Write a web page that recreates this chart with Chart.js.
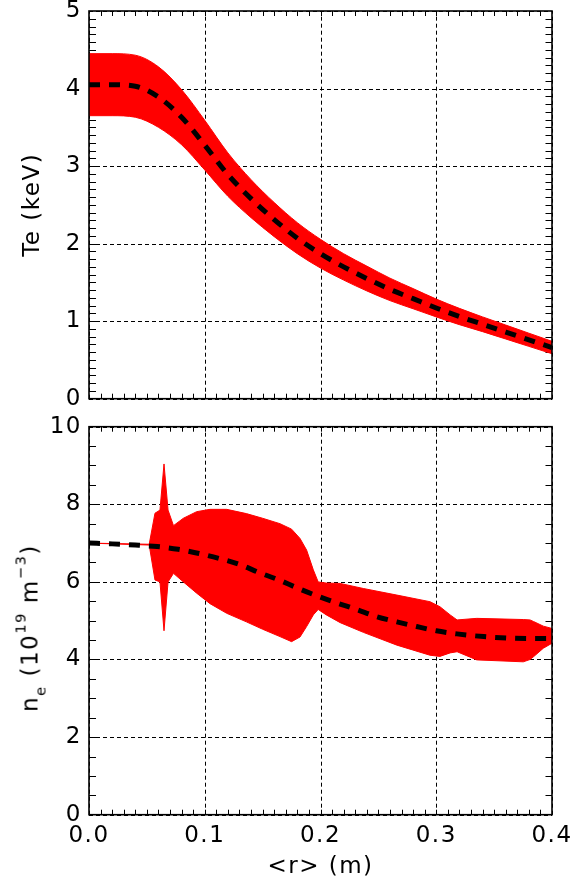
<!DOCTYPE html>
<html>
<head>
<meta charset="utf-8">
<script src="https://cdn.jsdelivr.net/npm/chart.js@4.4.1/dist/chart.umd.min.js"></script>
<style>
  html, body { margin: 0; padding: 0; background: #fff; }
  #wrap { position: relative; width: 582px; height: 880px; overflow: hidden; }
  #wrap canvas { position: absolute; left: 0; }
  #teCanvas { top: 0; }
  #neCanvas { top: 410px; }
  #neTitle {
    position: absolute; left: 29.5px; top: 628px;
    transform: translate(-50%, -50%) rotate(-90deg);
    font: 23px 'DejaVu Sans', sans-serif; letter-spacing: 1.5px;
    line-height: 1; white-space: nowrap; color: #000;
  }
  #neTitle sub, #neTitle sup { font-size: 0.64em; line-height: 0; }
  #neTitle sub { vertical-align: -8px; }
  #neTitle sup { vertical-align: 12px; }
</style>
</head>
<body>
<div id="wrap">
  <canvas id="teCanvas" width="582" height="410"></canvas>
  <canvas id="neCanvas" width="582" height="470"></canvas>
  <div id="neTitle">n<sub>e</sub> (10<sup>19</sup> m<sup>&minus;3</sup>)</div>
</div>
<script>
// ---- data ----
const rTicks = [0, 0.1, 0.2, 0.3, 0.4];
const teTicks = [0, 1, 2, 3, 4, 5];
const neTicks = [0, 2, 4, 6, 8, 10];

// Te profile (keV): fitted mean and uncertainty band
const rTe = [0, 0.02, 0.04, 0.06, 0.08, 0.10, 0.12, 0.14, 0.16, 0.18, 0.20,
  0.22, 0.24, 0.26, 0.28, 0.30, 0.32, 0.34, 0.36, 0.38, 0.40];
const teMean = [4.05, 4.05, 4.03, 3.89, 3.63, 3.27, 2.89, 2.58, 2.31, 2.07, 1.87,
  1.70, 1.55, 1.41, 1.29, 1.17, 1.06, 0.96, 0.86, 0.76, 0.66];
const teUpper = [4.45, 4.45, 4.43, 4.28, 3.985, 3.59, 3.17, 2.825, 2.53, 2.27, 2.055,
  1.87, 1.71, 1.555, 1.42, 1.285, 1.165, 1.055, 0.95, 0.845, 0.74];
const teLower = [3.65, 3.65, 3.63, 3.50, 3.275, 2.95, 2.61, 2.335, 2.09, 1.87, 1.685,
  1.53, 1.39, 1.265, 1.16, 1.055, 0.955, 0.865, 0.77, 0.675, 0.58];

// ne profile (1e19 m^-3): fitted mean and uncertainty band
const rNeMean = [0, 0.02, 0.04, 0.059, 0.077, 0.094, 0.113, 0.130, 0.147, 0.164, 0.181, 0.197, 0.214, 0.231,
  0.249, 0.266, 0.283, 0.300, 0.318, 0.341, 0.364, 0.384, 0.40];
const neMean = [7.00, 6.98, 6.95, 6.91, 6.84, 6.74, 6.60, 6.45, 6.24, 6.05, 5.83, 5.64, 5.46, 5.29,
  5.10, 4.97, 4.85, 4.74, 4.66, 4.59, 4.55, 4.54, 4.54];
const rNeBand = [0, 0.052, 0.057, 0.0613, 0.0648, 0.0683, 0.073, 0.0815, 0.093, 0.1045, 0.119, 0.136, 0.15, 0.165,
  0.175, 0.1823, 0.188, 0.1938, 0.198, 0.205, 0.217, 0.237, 0.266, 0.2946, 0.3032, 0.312, 0.318, 0.335,
  0.3752, 0.381, 0.384, 0.3925, 0.40];
const neUpper = [7.00, 6.97, 7.77, 7.85, 9.04, 7.85, 7.45, 7.64, 7.81, 7.87, 7.87, 7.76, 7.64, 7.50,
  7.36, 7.12, 6.82, 6.31, 6.00, 5.97, 5.96, 5.83, 5.66, 5.49, 5.36, 5.15, 5.02, 5.06,
  5.03, 5.02, 4.98, 4.86, 4.80];
const neLower = [7.00, 6.95, 6.05, 6.00, 4.74, 6.00, 6.22, 6.00, 5.71, 5.44, 5.19, 4.97, 4.78, 4.59,
  4.46, 4.58, 4.85, 5.15, 5.29, 5.15, 4.95, 4.70, 4.37, 4.11, 4.08, 4.17, 4.20, 3.99,
  3.94, 4.00, 4.07, 4.29, 4.42];

const FONT = "'DejaVu Sans', sans-serif";
const pts = (xs, ys) => xs.map((x, i) => ({ x: x, y: ys[i] }));

// IDL-style frame: dashed grid at majors, short inward minor ticks on all four sides
const idlFrame = {
  id: 'idlFrame',
  beforeDraw(chart) {
    chart.ctx.letterSpacing = '1.5px';
  },
  beforeDatasetsDraw(chart, args, opts) {
    const { ctx, chartArea: a, scales: { x, y } } = chart;
    ctx.save();
    ctx.letterSpacing = '0px';
    ctx.strokeStyle = '#000';
    ctx.lineWidth = 1;

    ctx.setLineDash([4, 3]);
    opts.xMajor.forEach(v => {
      const px = Math.round(x.getPixelForValue(v)) + 0.5;
      ctx.beginPath(); ctx.moveTo(px, a.bottom); ctx.lineTo(px, a.top); ctx.stroke();
    });
    opts.yMajor.forEach(v => {
      const py = Math.round(y.getPixelForValue(v)) + 0.5;
      ctx.beginPath(); ctx.moveTo(a.left, py); ctx.lineTo(a.right, py); ctx.stroke();
    });

    ctx.setLineDash([]);
    const nx = Math.round((x.max - x.min) / opts.xMinor);
    for (let i = 1; i < nx; i++) {
      const px = Math.round(x.getPixelForValue(x.min + i * opts.xMinor)) + 0.5;
      ctx.beginPath();
      ctx.moveTo(px, a.bottom); ctx.lineTo(px, a.bottom - 5);
      ctx.moveTo(px, a.top); ctx.lineTo(px, a.top + 5);
      ctx.stroke();
    }
    const ny = Math.round((y.max - y.min) / opts.yMinor);
    for (let i = 1; i < ny; i++) {
      const py = Math.round(y.getPixelForValue(y.min + i * opts.yMinor)) + 0.5;
      ctx.beginPath();
      ctx.moveTo(a.left, py); ctx.lineTo(a.left + 7, py);
      ctx.moveTo(a.right, py); ctx.lineTo(a.right - 6.5, py);
      ctx.stroke();
    }
    ctx.restore();
  },
  afterDatasetsDraw(chart) {
    const { ctx, chartArea: a } = chart;
    ctx.save();
    ctx.strokeStyle = '#000';
    ctx.lineWidth = 1.6;
    ctx.strokeRect(a.left, a.top, a.right - a.left, a.bottom - a.top);
    ctx.restore();
  }
};

function makeChart(canvasId, cfg) {
  const fixY = s => { s.width = 89; s.paddingTop = 0; s.paddingBottom = 0; };
  const fixX = s => { s.height = cfg.xHeight; s.paddingLeft = 0; s.paddingRight = 0; };
  return new Chart(document.getElementById(canvasId), {
    type: 'line',
    data: {
      datasets: [
        {
          label: cfg.name, data: pts(cfg.rMean, cfg.mean),
          borderColor: '#000', borderWidth: 5, borderDash: [11, 9], borderCapStyle: 'butt',
          fill: false, cubicInterpolationMode: 'monotone', pointRadius: 0
        },
        {
          label: cfg.name + ' upper', data: pts(cfg.rBand, cfg.upper),
          borderColor: '#ff0000', borderWidth: 1, backgroundColor: '#ff0000',
          fill: '+1', tension: cfg.bandTension, cubicInterpolationMode: cfg.bandMode, pointRadius: 0
        },
        {
          label: cfg.name + ' lower', data: pts(cfg.rBand, cfg.lower),
          borderColor: '#ff0000', borderWidth: 1,
          fill: false, tension: cfg.bandTension, cubicInterpolationMode: cfg.bandMode, pointRadius: 0
        }
      ]
    },
    options: {
      responsive: false,
      animation: false,
      devicePixelRatio: 1,
      layout: { padding: cfg.padding },
      plugins: {
        legend: { display: false },
        tooltip: { enabled: false },
        idlFrame: { xMajor: rTicks, yMajor: cfg.yTicks, xMinor: 0.01, yMinor: cfg.yMinor }
      },
      scales: {
        x: {
          type: 'linear', min: 0, max: 0.4,
          grid: { display: false, drawTicks: false },
          border: { display: false },
          afterBuildTicks: s => { s.ticks = rTicks.map(v => ({ value: v })); },
          afterFit: fixX,
          ticks: {
            display: cfg.showX, padding: 11, color: '#000', maxRotation: 0,
            font: { family: FONT, size: 23, lineHeight: 0.9 },
            callback: v => Number(v).toFixed(1)
          },
          title: {
            display: cfg.showX, text: '<r> (m)', color: '#000',
            font: { family: FONT, size: 23, lineHeight: 1 },
            padding: { top: 0, bottom: 1.5 }
          }
        },
        y: {
          type: 'linear', min: 0, max: cfg.yMax,
          grid: { display: false, drawTicks: false },
          border: { display: false },
          afterBuildTicks: s => { s.ticks = cfg.yTicks.map(v => ({ value: v })); },
          afterFit: fixY,
          ticks: {
            padding: 7, color: '#000',
            font: { family: FONT, size: 23, lineHeight: 0.9 },
            callback: v => String(v)
          },
          title: {
            display: cfg.yTitle !== '', text: cfg.yTitle, color: '#000',
            font: { family: FONT, size: 23, lineHeight: 1 },
            padding: { top: 21.5, bottom: 0 }
          }
        }
      }
    },
    plugins: [idlFrame]
  });
}

makeChart('teCanvas', {
  name: 'Te', rMean: rTe, mean: teMean, rBand: rTe, upper: teUpper, lower: teLower,
  bandTension: 0.4, bandMode: 'monotone',
  yMax: 5, yTicks: teTicks, yMinor: 0.1, yTitle: 'Te (keV)',
  showX: false, xHeight: 0,
  padding: { left: 0, right: 30, top: 11, bottom: 11.3 }
});

makeChart('neCanvas', {
  name: 'ne', rMean: rNeMean, mean: neMean, rBand: rNeBand, upper: neUpper, lower: neLower,
  bandTension: 0, bandMode: 'default',
  yMax: 10, yTicks: neTicks, yMinor: 0.5, yTitle: '',
  showX: true, xHeight: 65.3,
  padding: { left: 0, right: 30, top: 16.7, bottom: 0 }
});
</script>
</body>
</html>
